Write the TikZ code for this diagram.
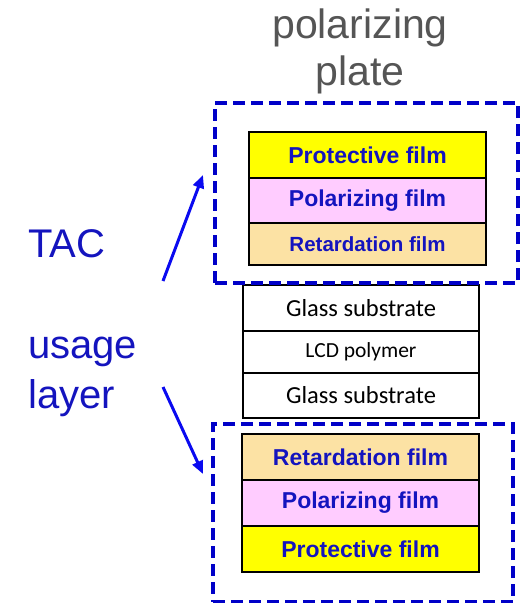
\documentclass[tikz,border=0pt]{standalone}
\usepackage{fontspec}
\setmainfont{Liberation Sans}
\newfontfamily\glassfont{Carlito}
\usetikzlibrary{arrows.meta}
\definecolor{plateblue}{RGB}{0,0,200}
\definecolor{arrowblue}{RGB}{10,10,240}
\definecolor{labelblue}{RGB}{20,20,190}
\definecolor{titlegray}{RGB}{85,85,85}
\definecolor{protyellow}{RGB}{255,255,0}
\definecolor{polpink}{RGB}{255,204,255}
\definecolor{rettan}{RGB}{252,226,164}
\begin{document}
\begin{tikzpicture}[x=1pt, y=-1pt,
    film/.style={draw=black, line width=1.6pt, inner sep=0pt, minimum width=237pt, text=labelblue, font=\bfseries\fontsize{23}{27}\selectfont},
    glass/.style={draw=black, line width=1.2pt, fill=white, inner sep=0pt, minimum width=236pt, font=\glassfont\fontsize{24.5}{28}\selectfont},
    plate/.style={draw=plateblue, line width=4pt, dash pattern=on 12pt off 6pt, inner sep=0pt},
    pointer/.style={draw=arrowblue, line width=3pt, -{Triangle[length=13pt,width=11pt]}},
    side label/.style={text=labelblue, anchor=base west, inner sep=0pt, font=\fontsize{40}{50}\selectfont}]
    \useasboundingbox (0,0) rectangle (526,603);

    \node[text=titlegray, align=center, anchor=base, inner sep=0pt, font=\fontsize{41}{47}\selectfont] at (360,85) (title) {polarizing\\plate};

    % upper polarizing plate
    \node[film, fill=protyellow, minimum height=46pt] at (367.5,155) (prot1) {Protective film};
    \node[film, fill=polpink, minimum height=45pt] at (367.5,200.5) (pol1) {Polarizing film};
    \node[film, fill=rettan, minimum height=42pt, font=\bfseries\fontsize{20.5}{24}\selectfont] at (367.5,244) (ret1) {Retardation film};

    % cell
    \node[glass, minimum height=46pt] at (361,308) (glass1) {Glass substrate};
    \node[glass, minimum height=42pt, font=\glassfont\fontsize{21.5}{25}\selectfont] at (361,352) (lcd) {LCD polymer};
    \node[glass, minimum height=45pt] at (361,395.5) (glass2) {Glass substrate};

    % lower polarizing plate
    \node[film, fill=rettan, minimum height=46pt] at (360.5,457) (ret2) {Retardation film};
    \node[film, fill=polpink, minimum height=46pt] at (360.5,503) (pol2) {Polarizing film};
    \node[film, fill=protyellow, minimum height=46pt] at (360.5,549) (prot2) {Protective film};

    \node[plate, minimum width=303pt, minimum height=180pt] at (366.5,193) (plate1) {};
    \node[plate, minimum width=300pt, minimum height=178pt] at (363,513) (plate2) {};

    \node[side label] at (28,257) (tac) {TAC};
    \node[side label, align=left] at (28,408) (usage) {usage\\layer};

    \coordinate (up start) at (163,281);
    \coordinate (up end) at (203,175);
    \coordinate (down start) at (163,387);
    \coordinate (down end) at (203,474);
    \draw[pointer] (up start) -- (up end);
    \draw[pointer] (down start) -- (down end);
\end{tikzpicture}
\end{document}
